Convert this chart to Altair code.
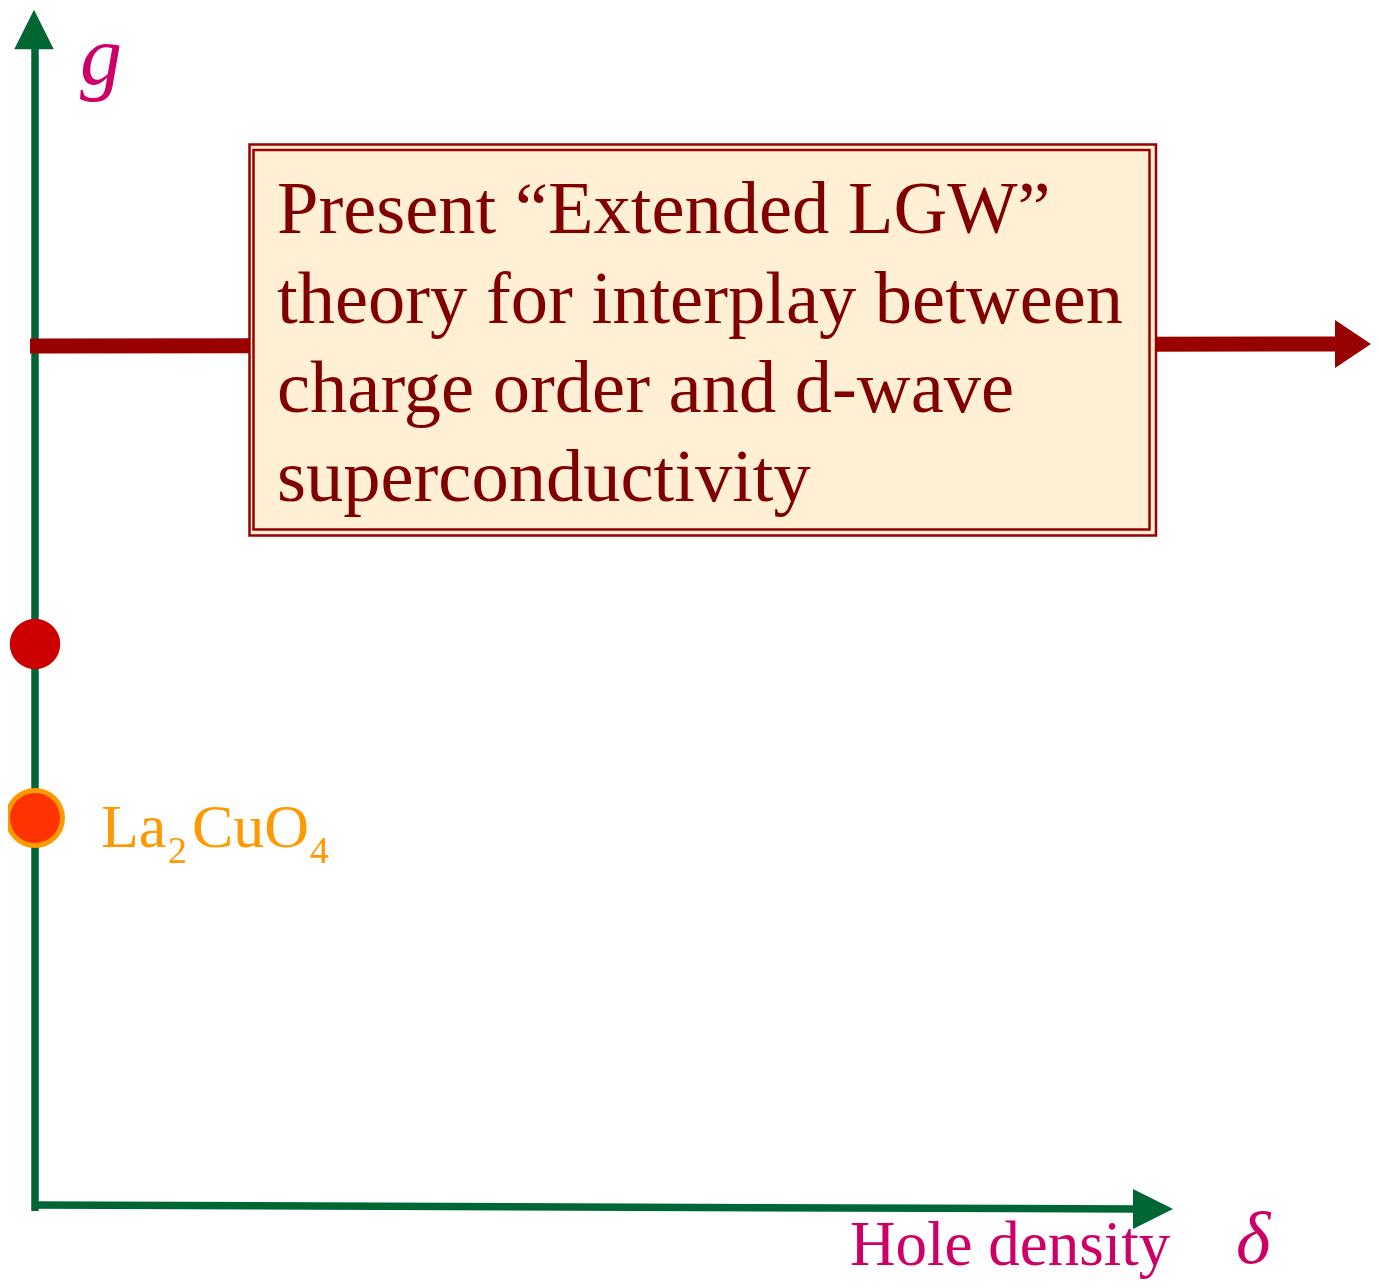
import altair as alt
import pandas as pd

# Diagram frame, in reference-picture pixels (page offset 8 px)
X_DOMAIN = [8, 1371]
Y_DOMAIN = [8, 1280]

# Green axes (g vertical, hole density horizontal)
axis_x1 = [35, 32]
axis_y1 = [1211, 1205]
axis_x2 = [35, 1136]
axis_y2 = [46, 1209]
axis_head_x = [34, 1153]
axis_head_y = [29.5, 1209]

# Red trajectory arrow
traj_x1 = [30]
traj_y1 = [346]
traj_x2 = [1338]
traj_y2 = [344]
traj_head_x = [1353]
traj_head_y = [344]

# Text box
box_outer = [249.5, 144.5, 1156, 535.5]
box_inner = [253.5, 150, 1149.5, 529.5]
box_lines = [
    "Present \u201cExtended LGW\u201d",
    "theory for interplay between",
    "charge order and d-wave",
    "superconductivity",
]
box_line_x = [277, 277, 277, 277]
box_line_y = [233, 322.5, 412, 501]

# Points on the g axis
red_dot_x = [35]
red_dot_y = [644]
la_dot_x = [35]
la_dot_y = [818]

# Labels
label_main = ["La", "CuO"]
label_main_x = [101, 192]
label_main_y = [847, 847]
label_sub = ["2", "4"]
label_sub_x = [168, 310]
label_sub_y = [863, 863]
g_label = ["g"]
g_x, g_y = [80], [84]
hole_label = ["Hole density"]
hole_x, hole_y = [850], [1265]
delta_label = ["\u03b4"]
delta_x, delta_y = [1236], [1263]

GREEN = "#006633"
DARKRED = "#990000"
TEXTRED = "#800000"
MAGENTA = "#CC0066"
ORANGE = "#FF9900"

xs = alt.Scale(domain=X_DOMAIN, nice=False, zero=False)
ys = alt.Scale(domain=Y_DOMAIN, nice=False, zero=False, reverse=True)


def X(f):
    return alt.X(f"{f}:Q", scale=xs, axis=None)


def Y(f):
    return alt.Y(f"{f}:Q", scale=ys, axis=None)


axes_df = pd.DataFrame({"x": axis_x1, "y": axis_y1, "x2": axis_x2, "y2": axis_y2})
axes = alt.Chart(axes_df).mark_rule(color=GREEN, strokeWidth=7.5, strokeCap="butt").encode(
    x=X("x"), y=Y("y"), x2="x2:Q", y2="y2:Q"
)

up_head = alt.Chart(pd.DataFrame({"x": axis_head_x[:1], "y": axis_head_y[:1]})).mark_point(
    shape="M 0 -1 L 1 1 L -1 1 Z", size=1560, filled=True, fill=GREEN, opacity=1, strokeWidth=0
).encode(x=X("x"), y=Y("y"))

right_head = alt.Chart(pd.DataFrame({"x": axis_head_x[1:], "y": axis_head_y[1:]})).mark_point(
    shape="M -1 -1 L 1 0 L -1 1 Z", size=1600, filled=True, fill=GREEN, opacity=1, strokeWidth=0
).encode(x=X("x"), y=Y("y"))

traj_df = pd.DataFrame({"x": traj_x1, "y": traj_y1, "x2": traj_x2, "y2": traj_y2})
traj = alt.Chart(traj_df).mark_rule(color=DARKRED, strokeWidth=15, strokeCap="butt").encode(
    x=X("x"), y=Y("y"), x2="x2:Q", y2="y2:Q"
)
traj_head = alt.Chart(pd.DataFrame({"x": traj_head_x, "y": traj_head_y})).mark_point(
    shape="M -0.75 -1 L 0.75 0 L -0.75 1 Z", size=2304, filled=True, fill=DARKRED, opacity=1, strokeWidth=0
).encode(x=X("x"), y=Y("y"))

outer_df = pd.DataFrame({"x": [box_outer[0]], "y": [box_outer[1]], "x2": [box_outer[2]], "y2": [box_outer[3]]})
inner_df = pd.DataFrame({"x": [box_inner[0]], "y": [box_inner[1]], "x2": [box_inner[2]], "y2": [box_inner[3]]})
box_outer_mark = alt.Chart(outer_df).mark_rect(fill="#FFEFD5", stroke=DARKRED, strokeWidth=2.5).encode(
    x=X("x"), y=Y("y"), x2="x2:Q", y2="y2:Q"
)
box_inner_mark = alt.Chart(inner_df).mark_rect(fill="#FFEFD5", fillOpacity=0, stroke=DARKRED, strokeWidth=2.5).encode(
    x=X("x"), y=Y("y"), x2="x2:Q", y2="y2:Q"
)

box_text = alt.Chart(pd.DataFrame({"t": box_lines, "x": box_line_x, "y": box_line_y})).mark_text(
    align="left", baseline="alphabetic", font="Liberation Serif", fontSize=74.5, color=TEXTRED
).encode(x=X("x"), y=Y("y"), text="t:N")

red_dot = alt.Chart(pd.DataFrame({"x": red_dot_x, "y": red_dot_y})).mark_point(
    shape="circle", size=2552, filled=True, fill="#CC0000", opacity=1, strokeWidth=0
).encode(x=X("x"), y=Y("y"))

la_dot = alt.Chart(pd.DataFrame({"x": la_dot_x, "y": la_dot_y})).mark_point(
    shape="circle", size=3019, filled=True, fill="#FF3300", stroke=ORANGE, strokeWidth=5, opacity=1
).encode(x=X("x"), y=Y("y"))

lab_main = alt.Chart(pd.DataFrame({"t": label_main, "x": label_main_x, "y": label_main_y})).mark_text(
    align="left", baseline="alphabetic", font="Liberation Serif", fontSize=62, color=ORANGE
).encode(x=X("x"), y=Y("y"), text="t:N")
lab_sub = alt.Chart(pd.DataFrame({"t": label_sub, "x": label_sub_x, "y": label_sub_y})).mark_text(
    align="left", baseline="alphabetic", font="Liberation Serif", fontSize=38, color=ORANGE
).encode(x=X("x"), y=Y("y"), text="t:N")

g_text = alt.Chart(pd.DataFrame({"t": g_label, "x": g_x, "y": g_y})).mark_text(
    align="left", baseline="alphabetic", font="Liberation Serif", fontStyle="italic", fontSize=84, color=MAGENTA
).encode(x=X("x"), y=Y("y"), text="t:N")
hole_text = alt.Chart(pd.DataFrame({"t": hole_label, "x": hole_x, "y": hole_y})).mark_text(
    align="left", baseline="alphabetic", font="Liberation Serif", fontSize=63, color=MAGENTA
).encode(x=X("x"), y=Y("y"), text="t:N")
delta_text = alt.Chart(pd.DataFrame({"t": delta_label, "x": delta_x, "y": delta_y})).mark_text(
    align="left", baseline="alphabetic", font="Liberation Serif", fontStyle="italic", fontSize=74, color=MAGENTA
).encode(x=X("x"), y=Y("y"), text="t:N")

chart = alt.layer(
    axes, up_head, right_head, traj, traj_head, box_outer_mark, box_inner_mark, box_text,
    red_dot, la_dot, lab_main, lab_sub, g_text, hole_text, delta_text,
).properties(
    width=1363, height=1272, padding=0, background="white",
    autosize=alt.AutoSizeParams(type="none"),
).configure_view(strokeWidth=0)

chart.save("out.html", embed_options={"renderer": "svg", "actions": False})
